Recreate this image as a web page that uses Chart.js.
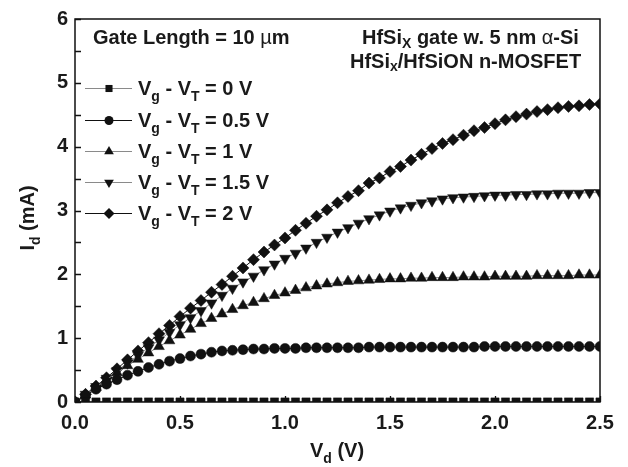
<!DOCTYPE html>
<html><head><meta charset="utf-8">
<script src="https://cdn.jsdelivr.net/npm/chart.js@4/dist/chart.umd.min.js"></script>
<style>html,body{margin:0;padding:0;background:#fff;}canvas{display:block;}</style>
</head><body>
<canvas id="c" width="628" height="467"></canvas>
<script>
// ---- data ----
const vd = [0.00,0.05,0.10,0.15,0.20,0.25,0.30,0.35,0.40,0.45,
            0.50,0.55,0.60,0.65,0.70,0.75,0.80,0.85,0.90,0.95,
            1.00,1.05,1.10,1.15,1.20,1.25,1.30,1.35,1.40,1.45,
            1.50,1.55,1.60,1.65,1.70,1.75,1.80,1.85,1.90,1.95,
            2.00,2.05,2.10,2.15,2.20,2.25,2.30,2.35,2.40,2.45,
            2.50];
const id_0 = [0,0,0,0,0,0,0,0,0,0, 0,0,0,0,0,0,0,0,0,0, 0,0,0,0,0,0,0,0,0,0,
              0,0,0,0,0,0,0,0,0,0, 0,0,0,0,0,0,0,0,0,0, 0];
const id_05 = [0,0.10,0.20,0.28,0.35,0.42,0.48,0.54,0.59,0.64,
               0.68,0.72,0.75,0.78,0.80,0.81,0.82,0.83,0.83,0.84,
               0.84,0.84,0.85,0.85,0.85,0.85,0.85,0.85,0.86,0.86,
               0.86,0.86,0.86,0.86,0.86,0.86,0.86,0.86,0.86,0.87,
               0.87,0.87,0.87,0.87,0.87,0.87,0.87,0.87,0.87,0.87,
               0.87];
const id_1 = [0,0.11,0.23,0.35,0.46,0.57,0.67,0.77,0.87,0.96,
              1.05,1.14,1.23,1.31,1.38,1.45,1.51,1.56,1.62,1.67,
              1.71,1.75,1.79,1.82,1.85,1.87,1.89,1.90,1.91,1.92,
              1.93,1.93,1.94,1.94,1.95,1.95,1.95,1.96,1.96,1.96,
              1.97,1.97,1.97,1.97,1.98,1.98,1.98,1.98,1.99,1.99,
              1.99];
const id_15 = [0,0.12,0.24,0.37,0.49,0.61,0.73,0.85,0.97,1.09,
               1.21,1.32,1.43,1.55,1.67,1.78,1.88,1.97,2.07,2.16,
               2.25,2.33,2.41,2.50,2.58,2.66,2.73,2.80,2.87,2.93,
               2.99,3.04,3.08,3.12,3.15,3.18,3.20,3.21,3.22,3.23,
               3.24,3.24,3.25,3.25,3.26,3.26,3.27,3.27,3.27,3.28,
               3.28];
const id_2 = [0,0.12,0.25,0.38,0.52,0.66,0.80,0.93,1.07,1.20,
              1.34,1.47,1.59,1.72,1.84,1.97,2.10,2.23,2.35,2.46,
              2.57,2.69,2.80,2.91,3.01,3.12,3.22,3.31,3.43,3.51,
              3.61,3.69,3.79,3.88,3.97,4.05,4.11,4.18,4.25,4.30,
              4.36,4.42,4.47,4.51,4.55,4.58,4.61,4.63,4.64,4.66,
              4.67];
const overdrive = ['0 V','0.5 V','1 V','1.5 V','2 V'];
const xTickStep = 0.5, yTickStep = 1, minorStep = 0.5;

const FONT = '"Liberation Sans", Arial, Helvetica, sans-serif';
const TXT = '#1a1a1a';
const FS = 20;

function pts(ys){ return vd.map((x,i)=>({x:x, y:ys[i]})); }

const styles = [
  {pointStyle:'rect', radius:5.8, legendRadius:5, rot:0, line:'#8a8a8a'},
  {pointStyle:'circle', radius:5, legendRadius:4.5, rot:0, line:'#111'},
  {pointStyle:'triangle', radius:6.2, legendRadius:5.6, rot:0, line:'#8a8a8a'},
  {pointStyle:'triangle', radius:6.2, legendRadius:5.6, rot:180, line:'#8a8a8a'},
  {pointStyle:'rectRot', radius:6, legendRadius:5.5, rot:0, line:'#111'}
];
const series = [id_0, id_05, id_1, id_15, id_2];

const datasets = series.map((s,i)=>({
  label: 'Vg - VT = ' + overdrive[i],
  data: pts(s),
  showLine: true,
  borderColor: styles[i].line,
  borderWidth: 1,
  pointStyle: styles[i].pointStyle,
  pointRadius: styles[i].radius,
  pointRotation: styles[i].rot,
  pointBackgroundColor: '#111',
  pointBorderColor: '#111',
  pointBorderWidth: 0.5,
  clip: i === 0 ? 0 : undefined
}));

function richText(ctx, parts, x, y, size, align, subOff){
  const fonts = parts.map(p => (p.w||'bold') + ' ' + (p.sub ? Math.round(size*0.68) : size) + 'px ' + (p.f||FONT));
  const widths = parts.map((p,i)=>{ ctx.font = fonts[i]; return ctx.measureText(p.t).width; });
  const total = widths.reduce((a,b)=>a+b,0);
  let cx = align === 'center' ? x - total/2 : (align === 'right' ? x - total : x);
  ctx.textAlign = 'left';
  ctx.textBaseline = 'alphabetic';
  parts.forEach((p,i)=>{
    ctx.font = fonts[i];
    ctx.fillText(p.t, cx, y + (p.sub ? subOff : 0));
    cx += widths[i];
  });
}

function drawMarker(ctx, style, x, y){
  const r = style.legendRadius;
  ctx.beginPath();
  if (style.pointStyle === 'rect') {
    const h = r*Math.SQRT1_2; ctx.rect(x-h, y-h, 2*h, 2*h);
  } else if (style.pointStyle === 'circle') {
    ctx.arc(x, y, r, 0, Math.PI*2);
  } else if (style.pointStyle === 'triangle') {
    const s = style.rot ? -1 : 1;
    ctx.moveTo(x, y - s*r);
    ctx.lineTo(x + 0.866*r, y + s*0.5*r);
    ctx.lineTo(x - 0.866*r, y + s*0.5*r);
    ctx.closePath();
  } else {
    ctx.moveTo(x-r, y); ctx.lineTo(x, y-r); ctx.lineTo(x+r, y); ctx.lineTo(x, y+r); ctx.closePath();
  }
  ctx.fillStyle = '#111';
  ctx.fill();
}

const decor = {
  id: 'decor',
  afterDatasetsDraw(chart){
    const ctx = chart.ctx, a = chart.chartArea;
    const xs = chart.scales.x, ys = chart.scales.y;
    ctx.save();
    ctx.strokeStyle = '#111';
    ctx.lineWidth = 1.5;
    ctx.strokeRect(a.left, a.top, a.right - a.left, a.bottom - a.top);
    ctx.lineWidth = 1.3;
    ctx.beginPath();
    for (let v = 0; v <= 6.001; v += minorStep) {
      const py = Math.round(ys.getPixelForValue(v)) + 0.5;
      ctx.moveTo(a.left, py); ctx.lineTo(a.left + 6, py);
    }
    for (let v = 0; v <= 2.501; v += xTickStep) {
      const px = Math.round(xs.getPixelForValue(v)) + 0.5;
      ctx.moveTo(px, a.bottom); ctx.lineTo(px, a.bottom - 6);
    }
    ctx.stroke();
    ctx.restore();
  },
  afterDraw(chart){
    const ctx = chart.ctx;
    ctx.save();
    ctx.fillStyle = TXT;
    // annotations
    richText(ctx, [{t:'Gate Length = 10 '},{t:'\u00b5', w:'normal'},{t:'m'}], 93, 44, FS, 'left', 0);
    richText(ctx, [{t:'HfSi'},{t:'X', sub:true},{t:' gate w. 5 nm '},{t:'\u03b1', w:'normal'},{t:'-Si'}], 362, 44, FS, 'left', 4);
    richText(ctx, [{t:'HfSi'},{t:'x', sub:true},{t:'/HfSiON n-MOSFET'}], 350, 68, FS, 'left', 3);
    // legend
    const rows = [88, 120, 151, 182, 213];
    rows.forEach((ry, i)=>{
      ctx.strokeStyle = styles[i].line;
      ctx.lineWidth = 1.2;
      ctx.beginPath();
      ctx.moveTo(85, ry + 0.5); ctx.lineTo(132, ry + 0.5);
      ctx.stroke();
      drawMarker(ctx, styles[i], 109, ry + 0.5);
      ctx.fillStyle = TXT;
      richText(ctx, [{t:'V'},{t:'g', sub:true},{t:' - V'},{t:'T', sub:true},{t:' = ' + overdrive[i]}], 138, ry + 7, FS, 'left', 6);
    });
    // axis titles
    richText(ctx, [{t:'V'},{t:'d', sub:true},{t:' (V)'}], 337, 457, FS, 'center', 6);
    ctx.save();
    ctx.translate(27, 218);
    ctx.rotate(-Math.PI/2);
    richText(ctx, [{t:'I'},{t:'d', sub:true},{t:' (mA)'}], 0, 7, FS, 'center', 6);
    ctx.restore();
    ctx.restore();
  }
};

new Chart(document.getElementById('c'), {
  type: 'scatter',
  data: { datasets },
  options: {
    responsive: false,
    animation: false,
    events: [],
    layout: { padding: { left: 0, right: 28, top: 15, bottom: 0 } },
    plugins: { legend: { display: false }, tooltip: { enabled: false } },
    scales: {
      x: {
        type: 'linear', min: 0, max: 2.5,
        afterFit(s){ s.height = 65; },
        grid: { display: false, drawTicks: false },
        border: { display: false },
        ticks: { stepSize: xTickStep, padding: 9, color: TXT, maxRotation: 0, autoSkip: false,
                 font: { family: FONT, size: FS, weight: 'bold' },
                 callback: v => Number(v).toFixed(1) }
      },
      y: {
        type: 'linear', min: 0, max: 6,
        afterFit(s){ s.width = 75; },
        grid: { display: false, drawTicks: false },
        border: { display: false },
        ticks: { stepSize: yTickStep, padding: 7, color: TXT,
                 font: { family: FONT, size: FS, weight: 'bold' },
                 callback: v => String(v) }
      }
    }
  },
  plugins: [decor]
});
</script>
</body></html>
